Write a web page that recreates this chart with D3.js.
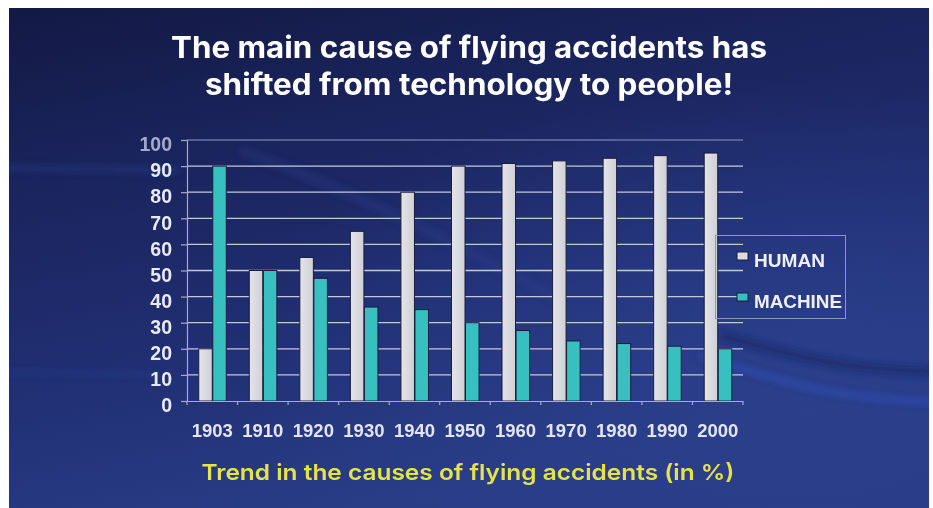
<!DOCTYPE html>
<html>
<head>
<meta charset="utf-8">
<script src="https://cdn.jsdelivr.net/npm/d3@7"></script>
<style>
  html, body { margin: 0; padding: 0; background: #ffffff; }
  svg { display: block; }
</style>
</head>
<body>
<div id="chart"></div>
<script>
/************************
 *  Data
 ************************/
const years = ["1903", "1910", "1920", "1930", "1940", "1950", "1960", "1970", "1980", "1990", "2000"];
const human = [20, 50, 55, 65, 80, 90, 91, 92, 93, 94, 95];
const machine = [90, 50, 47, 36, 35, 30, 27, 23, 22, 21, 20];
const seriesNames = ["HUMAN", "MACHINE"];
const yTicks = [0, 10, 20, 30, 40, 50, 60, 70, 80, 90, 100];

const titleLines = ["The main cause of flying accidents has", "shifted from technology to people!"];
const subtitle = "Trend in the causes of flying accidents (in %)";

/************************
 *  Config
 ************************/
const width = 933;
const height = 508;
const plot = { left: 187, right: 743, top: 140, bottom: 401 };
const colors = { HUMAN: "#dcdce0", MACHINE: "#38c0c0" };
const labelFont = "'Liberation Sans', Arial, sans-serif";

const svg = d3.select("#chart")
  .append("svg")
  .attr("width", width)
  .attr("height", height);

const defs = svg.append("defs");

// background gradient
const bg = defs.append("linearGradient")
  .attr("id", "bg")
  .attr("x1", 0).attr("y1", 0)
  .attr("x2", 0.35).attr("y2", 1);
bg.append("stop").attr("offset", "0%").attr("stop-color", "#131944");
bg.append("stop").attr("offset", "30%").attr("stop-color", "#1a245c");
bg.append("stop").attr("offset", "60%").attr("stop-color", "#1f2c6e");
bg.append("stop").attr("offset", "100%").attr("stop-color", "#283c86");

const glow = defs.append("radialGradient")
  .attr("id", "glow")
  .attr("cx", 0.85).attr("cy", 0.75).attr("r", 0.6);
glow.append("stop").attr("offset", "0%").attr("stop-color", "#2b3f8c").attr("stop-opacity", 0.9);
glow.append("stop").attr("offset", "100%").attr("stop-color", "#2b3f8c").attr("stop-opacity", 0);

const humanGrad = defs.append("linearGradient").attr("id", "humanGrad");
humanGrad.append("stop").attr("offset", "0%").attr("stop-color", "#e4e4e8");
humanGrad.append("stop").attr("offset", "100%").attr("stop-color", "#cfd0d6");

defs.append("filter").attr("id", "blur")
  .append("feGaussianBlur").attr("stdDeviation", 3);

const panel = { x: 9, y: 8, w: 920, h: 500 };
defs.append("clipPath").attr("id", "panelClip")
  .append("rect")
  .attr("x", panel.x).attr("y", panel.y)
  .attr("width", panel.w).attr("height", panel.h);

/************************
 *  Background
 ************************/
svg.append("rect")
  .attr("x", panel.x).attr("y", panel.y)
  .attr("width", panel.w).attr("height", panel.h)
  .attr("fill", "url(#bg)");
svg.append("rect")
  .attr("x", panel.x).attr("y", panel.y)
  .attr("width", panel.w).attr("height", panel.h)
  .attr("fill", "url(#glow)");

// soft streaks
const streaks = svg.append("g")
  .attr("clip-path", "url(#panelClip)")
  .append("g")
  .attr("filter", "url(#blur)");
streaks.append("path")
  .attr("d", "M 700 355 C 780 380, 820 398, 940 402")
  .attr("fill", "none").attr("stroke", "#2f50b8").attr("stroke-width", 5).attr("opacity", 0.8);
streaks.append("path")
  .attr("d", "M 720 335 C 790 355, 840 370, 940 372")
  .attr("fill", "none").attr("stroke", "#16245e").attr("stroke-width", 8).attr("opacity", 0.6);
streaks.append("path")
  .attr("d", "M 240 150 C 350 190, 450 240, 560 300")
  .attr("fill", "none").attr("stroke", "#2c3f8e").attr("stroke-width", 10).attr("opacity", 0.3);
streaks.append("path")
  .attr("d", "M 0 168 L 180 170")
  .attr("fill", "none").attr("stroke", "#24357e").attr("stroke-width", 8).attr("opacity", 0.5);
streaks.append("path")
  .attr("d", "M 0 372 L 160 374")
  .attr("fill", "none").attr("stroke", "#283c8c").attr("stroke-width", 4).attr("opacity", 0.6);

/************************
 *  Scales
 ************************/
const x = d3.scaleBand()
  .domain(years)
  .range([plot.left, plot.right])
  .paddingInner(0.445)
  .paddingOuter(0.2225);

const xSub = d3.scaleBand()
  .domain(seriesNames)
  .range([0, x.bandwidth()]);

const y = d3.scaleLinear()
  .domain([0, 100])
  .range([plot.bottom, plot.top]);

/************************
 *  Grid & axes
 ************************/
svg.append("g")
  .selectAll("line")
  .data(yTicks.filter(d => d > 0))
  .join("line")
  .attr("x1", plot.left).attr("x2", plot.right)
  .attr("y1", d => y(d)).attr("y2", d => y(d))
  .attr("stroke", d => d === 100 ? "#6a74a8" : "#c4c8dc")
  .attr("stroke-width", 1.3);

// y axis
const yAxis = svg.append("g")
  .attr("transform", `translate(${plot.left},0)`)
  .call(d3.axisLeft(y).tickValues(yTicks).tickSize(6).tickPadding(9).tickFormat(d3.format("d")));
yAxis.select(".domain").attr("stroke", "#a6acc8").attr("stroke-width", 1.2);
yAxis.selectAll(".tick line").attr("stroke", "#a6acc8").attr("stroke-width", 1.2);
yAxis.selectAll(".tick text")
  .attr("dy", "0.55em")
  .attr("fill", d => d === 100 ? "#a4aacb" : "#e8eaf2")
  .style("font-family", labelFont)
  .style("font-weight", "bold")
  .style("font-size", "19.5px");

/************************
 *  Bars
 ************************/
const groups = svg.append("g")
  .selectAll("g")
  .data(years.map((yr, i) => ({ year: yr, values: [
    { key: "HUMAN", value: human[i] },
    { key: "MACHINE", value: machine[i] }
  ] })))
  .join("g")
  .attr("transform", d => `translate(${x(d.year)},0)`);

groups.selectAll("rect")
  .data(d => d.values)
  .join("rect")
  .attr("x", d => xSub(d.key) + 0.5)
  .attr("y", d => y(d.value))
  .attr("width", xSub.bandwidth() - 0.5)
  .attr("height", d => y(0) - y(d.value))
  .attr("fill", d => d.key === "HUMAN" ? "url(#humanGrad)" : colors.MACHINE)
  .attr("stroke", "#1a1d3c")
  .attr("stroke-width", 1);

// x axis
const xAxis = svg.append("g")
  .attr("transform", `translate(0,${plot.bottom})`)
  .call(d3.axisBottom(x).tickSize(0).tickPadding(23));
xAxis.select(".domain")
  .attr("d", `M${plot.left - 4},0.5H${plot.right}`)
  .attr("stroke", "#a6acc8").attr("stroke-width", 1.2);
xAxis.selectAll(".tick text")
  .attr("fill", "#e2e4ee")
  .style("font-family", labelFont)
  .style("font-weight", "bold")
  .style("font-size", "18.5px");

// small ticks between groups
xAxis.append("g")
  .selectAll("line")
  .data(d3.range(years.length + 1))
  .join("line")
  .attr("x1", i => plot.left + i * x.step())
  .attr("x2", i => plot.left + i * x.step())
  .attr("y1", 0).attr("y2", 4)
  .attr("stroke", "#a6acc8").attr("stroke-width", 1.2);

/************************
 *  Legend
 ************************/
const legend = svg.append("g").attr("transform", "translate(715,235)");
legend.append("rect")
  .attr("x", 0.5).attr("y", 0.5)
  .attr("width", 130).attr("height", 83)
  .attr("fill", "none")
  .attr("stroke", "#8f96bb")
  .attr("stroke-width", 1);

const legendItems = legend.selectAll("g.item")
  .data(seriesNames)
  .join("g")
  .attr("class", "item")
  .attr("transform", (d, i) => `translate(22,${17 + i * 41})`);
legendItems.append("rect")
  .attr("width", 11).attr("height", 8)
  .attr("fill", d => colors[d])
  .attr("stroke", "#1a1d3c").attr("stroke-width", 1);
legendItems.append("text")
  .attr("x", 17).attr("y", 15)
  .attr("fill", "#eef0f6")
  .style("font-family", labelFont)
  .style("font-weight", "bold")
  .style("font-size", "18px")
  .attr("textLength", (d, i) => i === 0 ? 71 : 88)
  .attr("lengthAdjust", "spacingAndGlyphs")
  .text(d => d);

/************************
 *  Titles
 ************************/
svg.append("g")
  .selectAll("text")
  .data(titleLines)
  .join("text")
  .attr("x", 469)
  .attr("y", (d, i) => 58 + i * 37)
  .attr("text-anchor", "middle")
  .attr("fill", "#ffffff")
  .style("font-family", "Inter, 'Open Sans', sans-serif")
  .style("font-weight", 700)
  .style("font-size", "30px")
  .attr("textLength", (d, i) => i === 0 ? 596 : 528)
  .attr("lengthAdjust", "spacingAndGlyphs")
  .text(d => d);

svg.append("text")
  .attr("x", 468)
  .attr("y", 480)
  .attr("text-anchor", "middle")
  .attr("fill", "#e6e24a")
  .style("font-family", "Inter, 'Open Sans', sans-serif")
  .style("font-weight", 600)
  .style("font-size", "22px")
  .attr("textLength", 533)
  .attr("lengthAdjust", "spacingAndGlyphs")
  .text(subtitle);
</script>
</body>
</html>
